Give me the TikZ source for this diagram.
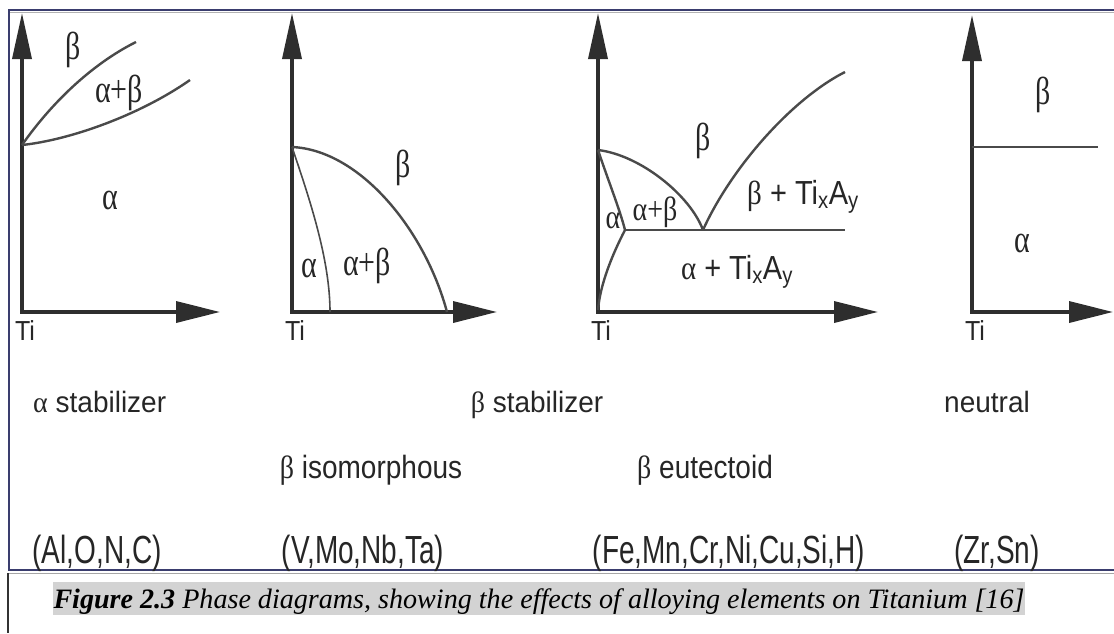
\documentclass[tikz,border=0pt]{standalone}
\usepackage{fontspec}
\usepackage{graphicx}
\setmainfont{Liberation Serif}
\newfontfamily\sansf{Liberation Sans}
\usetikzlibrary{arrows.meta}
\definecolor{navy}{HTML}{3A3D6E}
\definecolor{axisc}{HTML}{2E2E2E}
\definecolor{curvec}{HTML}{4A4A4A}
\definecolor{capgray}{HTML}{D3D3D3}
\newcommand\vst[2]{\scalebox{1}[#1]{#2}}
\begin{document}
\begin{tikzpicture}[x=1pt,y=-1pt,
  axisline/.style={draw=axisc, line width=3.5pt, line join=miter,
    {Triangle[length=46pt,width=19pt]}-{Triangle[length=44pt,width=21pt]}},
  curve/.style={draw=curvec, line width=2.4pt},
  thincurve/.style={draw=curvec, line width=1.6pt},
  glabel/.style={font=\fontsize{30}{30}\selectfont, inner sep=0pt, text=black!85},
  tilabel/.style={font=\sansf\fontsize{25}{25}\selectfont, inner sep=0pt, text=black!85},
  rowlabel/.style={font=\sansf\fontsize{28}{30}\selectfont, inner sep=0pt, anchor=base, text=black!85},
  phlabel/.style={font=\sansf\fontsize{29}{30}\selectfont, inner sep=0pt, text=black!85},
  frameline/.style={draw=navy, line width=2.2pt},
]
\useasboundingbox (0,0) rectangle (1114,633);
\fill[white] (0,0) rectangle (1114,633);

% frame
\coordinate (ftl) at (9,10);
\coordinate (ftr) at (1114,10);
\coordinate (fbl) at (9,570);
\coordinate (fbr) at (1114,570);
\draw[frameline] (ftr) -- (ftl) -- (fbl) -- (fbr);
\coordinate (gtl) at (10,12.5);
\coordinate (gtr) at (1114,12.5);
\draw[gray!60, line width=0.8pt] (gtl) -- (gtr);
\coordinate (gbl) at (9,573);
\coordinate (gbr) at (1114,573);
\draw[gray!70, line width=1pt] (gbl) -- (gbr);
\coordinate (cl1) at (8,573);
\coordinate (cl2) at (8,633);
\draw[black!80, line width=1.4pt] (cl1) -- (cl2);

% ---------- panel 1 : alpha stabilizer
\coordinate (p1o) at (22,312);
\coordinate (p1t) at (22,13);
\coordinate (p1r) at (220,312);
\coordinate (p1s) at (22,145);
\coordinate (p1a) at (136,42);
\coordinate (p1b) at (190,80);
\draw[axisline] (p1t) -- (p1o) -- (p1r);
\draw[curve] (p1s) .. controls (50,105) and (90,65) .. (p1a);
\draw[curve] (p1s) .. controls (70,140) and (140,115) .. (p1b);
\node[glabel] (p1beta) at (73,50) {\vst{1.3}{β}};
\node[glabel] (p1ab) at (119,93) {\vst{1.3}{α+β}};
\node[glabel] (p1alpha) at (110,200) {\vst{1.3}{α}};
\node[tilabel] (p1ti) at (25,331) {\vst{1.1}{Ti}};

% ---------- panel 2 : beta isomorphous
\coordinate (p2o) at (292,312);
\coordinate (p2t) at (292,13);
\coordinate (p2r) at (497,312);
\coordinate (p2s) at (292,147);
\coordinate (p2e) at (447,312);
\coordinate (p2i) at (330,312);
\draw[axisline] (p2t) -- (p2o) -- (p2r);
\draw[curve] (p2s) .. controls (360,150) and (425,230) .. (p2e);
\draw[thincurve] (p2s) .. controls (310,200) and (330,260) .. (p2i);
\node[glabel] (p2beta) at (403,168) {\vst{1.3}{β}};
\node[glabel] (p2alpha) at (309,268) {\vst{1.3}{α}};
\node[glabel] (p2ab) at (367,266) {\vst{1.3}{α+β}};
\node[tilabel] (p2ti) at (295,331) {\vst{1.1}{Ti}};

% ---------- panel 3 : beta eutectoid
\coordinate (p3o) at (598,312);
\coordinate (p3t) at (598,13);
\coordinate (p3r) at (878,312);
\coordinate (p3s) at (598,150);
\coordinate (p3e) at (703,230);
\coordinate (p3k) at (625,230);
\coordinate (p3h) at (845,230);
\coordinate (p3u) at (845,72);
\coordinate (p3z) at (598,310);
\draw[axisline] (p3t) -- (p3o) -- (p3r);
\draw[curve] (p3s) .. controls (640,155) and (690,195) .. (p3e);
\draw[curve] (p3e) .. controls (730,170) and (790,100) .. (p3u);
\draw[curve] (p3k) -- (p3h);
\draw[curve] (p3s) .. controls (608,180) and (620,210) .. (p3k);
\draw[curve] (p3k) .. controls (612,255) and (600,285) .. (p3z);
\node[glabel] (p3beta) at (703,141) {\vst{1.3}{β}};
\node[glabel, font=\fontsize{28}{28}\selectfont] (p3ab) at (655,212) {\vst{1.2}{α+β}};
\node[glabel, font=\fontsize{28}{28}\selectfont] (p3alpha) at (613,221) {\vst{1.2}{α}};
\node[phlabel] (p3bt) at (803,197) {\vst{1.15}{{\rmfamily β} + Ti\textsubscript{x}A\textsubscript{y}}};
\node[phlabel] (p3at) at (737,272) {\vst{1.15}{{\rmfamily α} + Ti\textsubscript{x}A\textsubscript{y}}};
\node[tilabel] (p3ti) at (601,331) {\vst{1.1}{Ti}};

% ---------- panel 4 : neutral
\coordinate (p4o) at (972,312);
\coordinate (p4t) at (972,15);
\coordinate (p4r) at (1113,312);
\coordinate (p4s) at (972,147);
\coordinate (p4e) at (1098,147);
\draw[axisline] (p4t) -- (p4o) -- (p4r);
\draw[curve] (p4s) -- (p4e);
\node[glabel] (p4beta) at (1043,95) {\vst{1.3}{β}};
\node[glabel] (p4alpha) at (1022,243) {\vst{1.3}{α}};
\node[tilabel] (p4ti) at (975,331) {\vst{1.1}{Ti}};

% ---------- row labels
\node[rowlabel, anchor=base west] (r1a) at (33,412) {\vst{1.05}{{\rmfamily α} stabilizer}};
\node[rowlabel] (r1b) at (537,412) {\vst{1.05}{{\rmfamily β} stabilizer}};
\node[rowlabel] (r1c) at (987,412) {\vst{1.05}{neutral}};
\node[rowlabel] (r2a) at (371,478) {\vst{1.15}{{\rmfamily β} isomorphous}};
\node[rowlabel] (r2b) at (705,478) {\vst{1.15}{{\rmfamily β} eutectoid}};
\node[rowlabel] (r3a) at (97,563) {\vst{1.4}{(Al,O,N,C)}};
\node[rowlabel] (r3b) at (363,563) {\vst{1.4}{(V,Mo,Nb,Ta)}};
\node[rowlabel] (r3c) at (729,563) {\vst{1.4}{(Fe,Mn,Cr,Ni,Cu,Si,H)}};
\node[rowlabel] (r3d) at (997,563) {\vst{1.4}{(Zr,Sn)}};

% ---------- caption
\fill[capgray] (53,582) rectangle (1025,615);
\node[anchor=base, inner sep=0pt, font=\fontsize{28.1}{30}\selectfont] (cap) at (539,608)
  {\textbf{\textit{Figure 2.3}} \textit{Phase diagrams, showing the effects of alloying elements on Titanium [16]}};
\end{tikzpicture}
\end{document}
